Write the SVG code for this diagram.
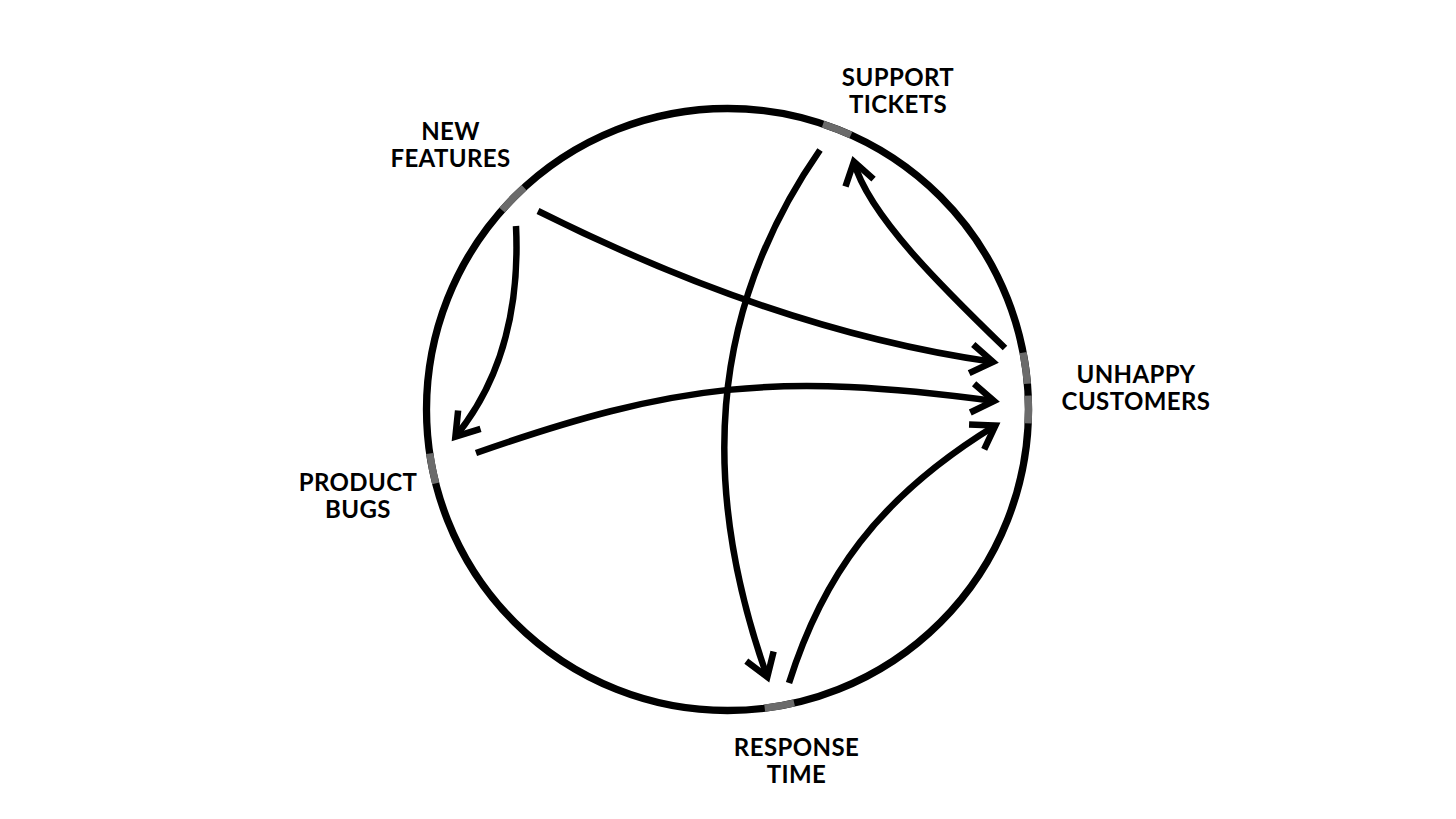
<svg xmlns="http://www.w3.org/2000/svg" width="1456" height="819" viewBox="0 0 1456 819">
<defs>
<style>
.ring{fill:none;stroke:#000;stroke-width:7.3}
.port{fill:none;stroke:#6b6b6b;stroke-width:7.3}
.edge{fill:none;stroke:#000;stroke-width:6.5;stroke-linecap:butt}
.lbl{font-family:Lato,"Noto Sans","Liberation Sans",sans-serif;font-weight:700;font-size:24px;letter-spacing:0.4px;fill:#000;text-anchor:middle}
</style>
<marker id="ah" markerUnits="userSpaceOnUse" viewBox="-30 -20 40 40" refX="0" refY="0" markerWidth="40" markerHeight="40" orient="auto" overflow="visible">
<polyline points="-22,-14.5 0,0 -22,14.5" fill="none" stroke="#000" stroke-width="6.5" stroke-linejoin="miter" stroke-miterlimit="10"/>
</marker>
</defs>
<rect width="1456" height="819" fill="#fff"/>
<circle class="ring" cx="727.5" cy="409.5" r="301"/>
<g id="new-features">
<path class="port" d="M502.1,210.1 A301,301 0 0 1 524.1,187.6"/>
<text class="lbl"><tspan x="450.5" y="140.2">NEW</tspan><tspan x="450.5" y="167.2">FEATURES</tspan></text>
</g>
<g id="support-tickets">
<path class="port" d="M823,124.1 A301,301 0 0 1 850.9,135"/>
<text class="lbl"><tspan x="898" y="85.5">SUPPORT</tspan><tspan x="898" y="112.5">TICKETS</tspan></text>
</g>
<g id="unhappy-customers">
<path class="port" d="M1023.1,352.6 A301,301 0 0 1 1027.4,383.8"/>
<path class="port" d="M1028.2,395.6 A301,301 0 0 1 1028.2,423.4"/>
<text class="lbl"><tspan x="1136" y="383">UNHAPPY</tspan><tspan x="1136" y="410">CUSTOMERS</tspan></text>
</g>
<g id="product-bugs">
<path class="port" d="M435.7,483.3 A301,301 0 0 1 429.7,453.5"/>
<text class="lbl"><tspan x="358" y="490.5">PRODUCT</tspan><tspan x="358" y="517.5">BUGS</tspan></text>
</g>
<g id="response-time">
<path class="port" d="M794.2,703 A301,301 0 0 1 764.7,708.2"/>
<text class="lbl"><tspan x="796.5" y="755.5">RESPONSE</tspan><tspan x="796.5" y="782.5">TIME</tspan></text>
</g>
<g id="connectors">
<path class="edge" marker-end="url(#ah)" d="M538,211 Q779,331.5 993,361.9"/>
<path class="edge" marker-end="url(#ah)" d="M516,226 C519,290 510,370 455.4,436.7"/>
<path class="edge" marker-end="url(#ah)" d="M476,453 C676,383 776,372 994,401"/>
<path class="edge" marker-end="url(#ah)" d="M820,150 C706,314 701,490 767.3,677"/>
<path class="edge" marker-end="url(#ah)" d="M789,683 C822,578 876.4,498.3 995.4,425.5"/>
<path class="edge" marker-end="url(#ah)" d="M1005,348 C945,290 868,215 853.9,161.6"/>
</g>
</svg>
